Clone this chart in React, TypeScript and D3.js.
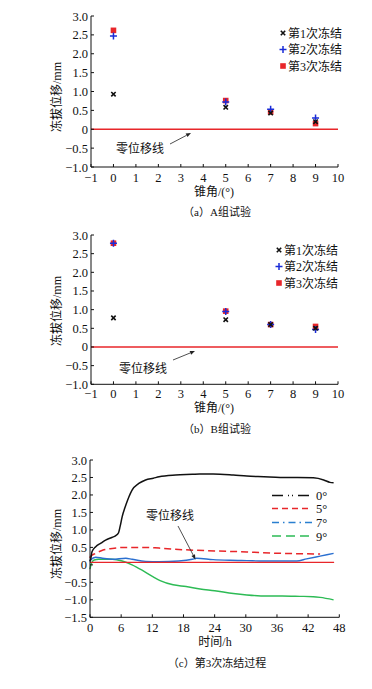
import React from "react";
import * as d3 from "d3";

const angles = [0, 5, 7, 9];
const seriesNames = ["第1次冻结", "第2次冻结", "第3次冻结"];
const aFreeze1 = [0.93, 0.58, 0.43, 0.2];
const aFreeze2 = [2.47, 0.72, 0.53, 0.3];
const aFreeze3 = [2.62, 0.76, 0.46, 0.15];
const bFreeze1 = [0.78, 0.73, 0.6, 0.5];
const bFreeze2 = [2.78, 0.95, 0.6, 0.47];
const bFreeze3 = [2.78, 0.96, 0.6, 0.55];
const angleTicks = [-1, 0, 1, 2, 3, 4, 5, 6, 7, 8, 9, 10];
const dispTicks = [-1, -0.5, 0, 0.5, 1, 1.5, 2, 2.5, 3];

const timeTicks = [0, 6, 12, 18, 24, 30, 36, 42, 48];
const dispTicksC = [-1.5, -1, -0.5, 0, 0.5, 1, 1.5, 2, 2.5, 3];
const curveNames = ["0°", "5°", "7°", "9°"];
const t0 = [0, 0.1, 0.4, 1.1, 2.1, 3.0, 4.3, 4.9, 5.5, 5.8, 6.2, 6.9, 7.5, 8.1, 9.4, 10.7, 12.2, 13.3, 16.5, 19.7, 21.1, 23.7, 27.6, 30.2, 33.5, 36.6, 40.0, 43.0, 45.0, 46.2, 46.9];
const v0 = [0.1, 0.14, 0.38, 0.52, 0.62, 0.71, 0.79, 0.83, 0.92, 1.1, 1.38, 1.71, 1.95, 2.14, 2.33, 2.43, 2.48, 2.52, 2.57, 2.59, 2.6, 2.6, 2.57, 2.54, 2.52, 2.5, 2.5, 2.49, 2.43, 2.36, 2.35];
const t5 = [0, 0.1, 1.1, 2.4, 4.3, 6.9, 10.7, 13.3, 18.4, 24, 30.2, 36.6, 40, 44.3];
const v5 = [0.2, 0.24, 0.33, 0.42, 0.47, 0.5, 0.5, 0.48, 0.43, 0.4, 0.37, 0.33, 0.32, 0.31];
const t7 = [0, 0.1, 1.1, 2.4, 4.3, 6.9, 8.1, 10.7, 13.3, 17.1, 19.7, 20.5, 23.7, 27, 30.2, 33.5, 36.6, 39.8, 41.7, 44.3, 46.9];
const v7 = [0.1, 0.14, 0.22, 0.19, 0.16, 0.19, 0.16, 0.1, 0.09, 0.11, 0.16, 0.19, 0.15, 0.13, 0.12, 0.11, 0.11, 0.11, 0.17, 0.25, 0.33];
const t9 = [0, 0.3, 0.8, 1.7, 4.3, 6.2, 8.1, 10.1, 12.0, 13.5, 16.0, 18.5, 21.2, 24.0, 27.6, 30.2, 34.0, 37.0, 40.4, 43.0, 44.3, 46.9];
const v9 = [-0.12, 0.05, 0.14, 0.16, 0.16, 0.11, 0.0, -0.16, -0.33, -0.45, -0.57, -0.62, -0.69, -0.74, -0.82, -0.86, -0.89, -0.89, -0.9, -0.91, -0.93, -1.0];
const zeroLineC = 0.07;
const zeroLineEnd = 47;

const FONT = "'Liberation Serif', 'Noto Sans CJK SC', serif";
const RED = "#e8262a";
const BLUE = "#1a2cd8";

function fmt(v: number) {
  if (v === 0) return "0";
  const s = Math.abs(v).toFixed(1);
  return v < 0 ? "−" + s : s;
}

function Arrow({ x1, y1, x2, y2 }: { x1: number; y1: number; x2: number; y2: number }) {
  const ang = Math.atan2(y2 - y1, x2 - x1);
  const L = 5, W = 2;
  const bx = x2 - L * Math.cos(ang), by = y2 - L * Math.sin(ang);
  const px = -Math.sin(ang) * W, py = Math.cos(ang) * W;
  return (
    <g>
      <line x1={x1} y1={y1} x2={bx} y2={by} stroke="#222" strokeWidth={0.8} />
      <path d={`M${x2},${y2}L${bx + px},${by + py}L${bx - px},${by - py}Z`} fill="#222" />
    </g>
  );
}

function Marker({ kind, x, y }: { kind: number; x: number; y: number }) {
  if (kind === 0)
    return (
      <path d={`M${x - 2.2},${y - 2.2}L${x + 2.2},${y + 2.2}M${x - 2.2},${y + 2.2}L${x + 2.2},${y - 2.2}`} stroke="#111" strokeWidth={1.6} />
    );
  if (kind === 1)
    return <path d={`M${x - 3.5},${y}L${x + 3.5},${y}M${x},${y - 3.5}L${x},${y + 3.5}`} stroke={BLUE} strokeWidth={1.5} />;
  return <rect x={x - 2.8} y={y - 2.8} width={5.6} height={5.6} fill={RED} />;
}

function ScatterPanel({ top, bottom, series, legendX, legendY, arrow, label, labelPos, xLabelDy, xTitleY, yTitleY, caption, captionY }: any) {
  const x = d3.scaleLinear().domain([-1, 10]).range([91, 338]);
  const y = d3.scaleLinear().domain([-1, 3]).range([bottom, top]);
  const order = [2, 1, 0];
  return (
    <g fontFamily={FONT} fill="#111">
      <line x1={x(-1)} x2={x(10)} y1={y(0)} y2={y(0)} stroke={RED} strokeWidth={1.3} />
      <line x1={x(-1)} x2={x(-1)} y1={y(-1)} y2={y(3)} stroke="#111" strokeWidth={1} />
      <line x1={x(-1)} x2={x(10)} y1={y(-1)} y2={y(-1)} stroke="#111" strokeWidth={1} />
      {dispTicks.map((t) => (
        <g key={"y" + t}>
          <line x1={x(-1)} x2={x(-1) + 3} y1={y(t)} y2={y(t)} stroke="#111" />
          <text x={x(-1) - 3} y={y(t) + 4.5} textAnchor="end" fontSize={12.5}>{fmt(t)}</text>
        </g>
      ))}
      {angleTicks.map((t) => (
        <g key={"x" + t}>
          <line x1={x(t)} x2={x(t)} y1={y(-1)} y2={y(-1) - 3} stroke="#111" />
          <text x={x(t)} y={y(-1) + xLabelDy} textAnchor="middle" fontSize={12.5}>{t < 0 ? "−" + Math.abs(t) : t}</text>
        </g>
      ))}
      {order.map((si) =>
        angles.map((a, i) => <Marker key={si + "-" + i} kind={si} x={x(a)} y={y(series[si][i])} />)
      )}
      {seriesNames.map((n, i) => (
        <g key={n}>
          <Marker kind={i} x={legendX} y={legendY + i * 16.5} />
          <text x={legendX + 5} y={legendY + i * 16.5 + 4.5} fontSize={12}>{n}</text>
        </g>
      ))}
      <text x={labelPos[0]} y={labelPos[1]} textAnchor="middle" fontSize={12}>{label}</text>
      <Arrow x1={arrow[0]} y1={arrow[1]} x2={arrow[2]} y2={arrow[3]} />
      <text x={214} y={xTitleY} textAnchor="middle" fontSize={12}>锥角/(°)</text>
      <text transform={`translate(61,${yTitleY}) rotate(-90)`} textAnchor="middle" fontSize={12}>冻拔位移/mm</text>
      <text x={217} y={captionY} textAnchor="middle" fontSize={11}>{caption}</text>
    </g>
  );
}

function TimePanel() {
  const x = d3.scaleLinear().domain([0, 48]).range([90, 339.3]);
  const y = d3.scaleLinear().domain([-1.5, 3]).range([617.3, 460]);
  const line = d3.line<[number, number]>().x((d) => x(d[0])).y((d) => y(d[1])).curve(d3.curveMonotoneX);
  const mk = (ts: number[], vs: number[]) => line(ts.map((t, i) => [t, vs[i]] as [number, number])) || "";
  const legend = [
    { c: "#111", dash: "11,5,1,3,1,5" },
    { c: RED, dash: "6,4" },
    { c: "#2a7fd0", dash: "7,4,1.5,4" },
    { c: "#2dbb55", dash: "9,5" },
  ];
  const ly = [495.5, 508.5, 522.5, 536];
  return (
    <g fontFamily={FONT} fill="#111">
      <path d={mk(t9, v9)} fill="none" stroke="#2dbb55" strokeWidth={1.4} />
      <path d={mk(t7, v7)} fill="none" stroke="#2a6fd0" strokeWidth={1.4} />
      <line x1={x(0)} x2={x(zeroLineEnd)} y1={y(zeroLineC)} y2={y(zeroLineC)} stroke={RED} strokeWidth={1.4} />
      <path d={mk(t5, v5)} fill="none" stroke={RED} strokeWidth={1.5} strokeDasharray="7,4" />
      <path d={mk(t0, v0)} fill="none" stroke="#111" strokeWidth={1.5} />
      <line x1={x(0)} x2={x(0)} y1={y(-1.5)} y2={y(3)} stroke="#111" />
      <line x1={x(0)} x2={x(48)} y1={y(-1.5)} y2={y(-1.5)} stroke="#111" />
      {dispTicksC.map((t) => (
        <g key={"y" + t}>
          <line x1={x(0)} x2={x(0) + 3} y1={y(t)} y2={y(t)} stroke="#111" />
          <text x={x(0) - 3} y={y(t) + 4.5} textAnchor="end" fontSize={12.5}>{fmt(t)}</text>
        </g>
      ))}
      {timeTicks.map((t) => (
        <g key={"x" + t}>
          <line x1={x(t)} x2={x(t)} y1={y(-1.5)} y2={y(-1.5) - 3} stroke="#111" />
          <text x={x(t)} y={y(-1.5) + 14.5} textAnchor="middle" fontSize={12.5}>{t}</text>
        </g>
      ))}
      {curveNames.map((n, i) => (
        <g key={n}>
          <line x1={272} x2={312} y1={ly[i]} y2={ly[i]} stroke={legend[i].c} strokeWidth={1.5} strokeDasharray={legend[i].dash} />
          <text x={316} y={ly[i] + 4.5} fontSize={12.5}>{n}</text>
        </g>
      ))}
      <text x={170} y={519.5} textAnchor="middle" fontSize={12}>零位移线</text>
      <Arrow x1={178} y1={526} x2={195.5} y2={559.5} />
      <text x={215} y={646} textAnchor="middle" fontSize={12}>时间/h</text>
      <text transform={`translate(61,544) rotate(-90)`} textAnchor="middle" fontSize={12}>冻拔位移/mm</text>
      <text x={217} y={667} textAnchor="middle" fontSize={11}>（c）第3次冻结过程</text>
    </g>
  );
}

export default function App() {
  return (
    <svg width={372} height={689} style={{ position: "absolute", left: 0, top: 0, background: "#fff" }}>
      <rect width={372} height={689} fill="#fff" />
      <ScatterPanel
        top={16}
        bottom={167}
        series={[aFreeze1, aFreeze2, aFreeze3]}
        legendX={283}
        legendY={33}
        arrow={[170, 144, 191, 133]}
        label="零位移线"
        labelPos={[140, 152.5]}
        xLabelDy={15}
        xTitleY={196}
        yTitleY={97}
        caption="（a）A组试验"
        captionY={216}
      />
      <ScatterPanel
        top={235}
        bottom={384.3}
        series={[bFreeze1, bFreeze2, bFreeze3]}
        legendX={279}
        legendY={250}
        arrow={[173, 360, 195, 351]}
        label="零位移线"
        labelPos={[143, 372.5]}
        xLabelDy={13.5}
        xTitleY={412}
        yTitleY={311}
        caption="（b）B组试验"
        captionY={433}
      />
      <TimePanel />
    </svg>
  );
}
